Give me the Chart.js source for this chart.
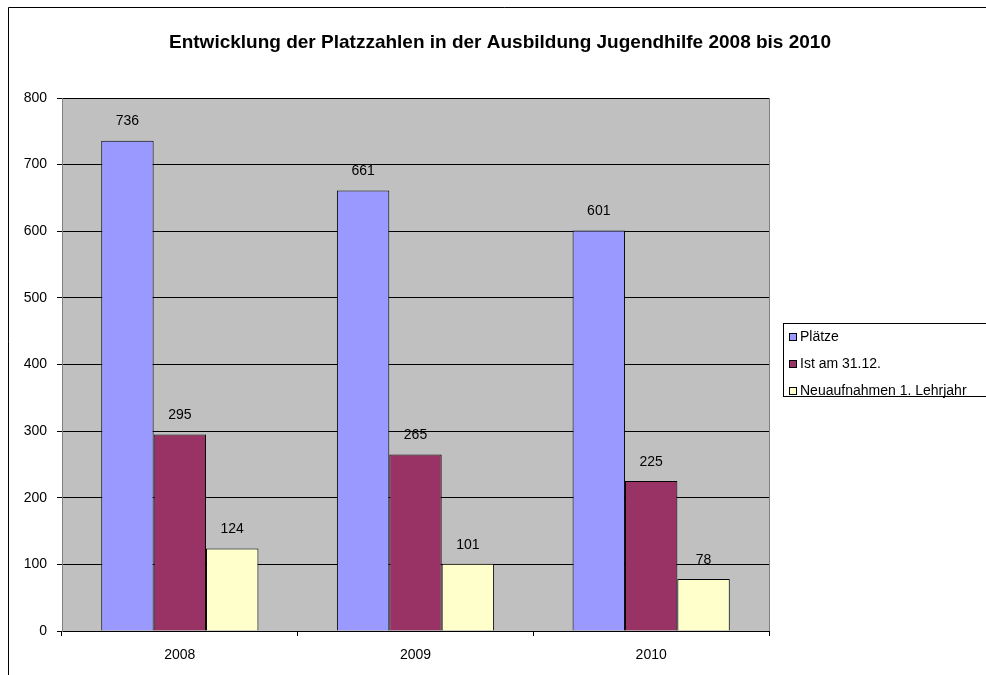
<!DOCTYPE html>
<html lang="de">
<head>
    <meta charset="UTF-8">
    <title>Entwicklung der Platzzahlen</title>
    <style>
        body {
            margin: 0;
            padding: 0;
            background: #fff;
            overflow: hidden;
        }
        .wrap {
            width: 986px;
            height: 675px;
            overflow: hidden;
        }
        canvas {
            display: block;
        }
    </style>
    <script src="https://cdn.jsdelivr.net/npm/chart.js"></script>
</head>
<body>
    <div class="wrap">
        <canvas id="chart" width="1000" height="675"></canvas>
    </div>
    <script>
        // Daten
        const years = ['2008', '2009', '2010'];
        const plaetze = [736, 661, 601];
        const istAm3112 = [295, 265, 225];
        const neuaufnahmen = [124, 101, 78];
        const seriesNames = ['Plätze', 'Ist am 31.12.', 'Neuaufnahmen 1. Lehrjahr'];
        const titleText = 'Entwicklung der Platzzahlen in der Ausbildung Jugendhilfe 2008 bis 2010';

        const FONT = 'Arial, "Liberation Sans", sans-serif';

        // Rahmen, Titel + grauer Plotbereich
        const backgroundPlugin = {
            id: 'plotBg',
            beforeDraw(chart) {
                const { ctx, chartArea } = chart;
                ctx.save();
                ctx.fillStyle = '#fff';
                ctx.fillRect(0, 0, chart.width, chart.height);
                ctx.strokeStyle = '#000';
                ctx.lineWidth = 1;
                ctx.beginPath();
                ctx.moveTo(8.5, chart.height);
                ctx.lineTo(8.5, 7.5);
                ctx.lineTo(chart.width, 7.5);
                ctx.stroke();
                // Titel über die ganze Diagrammbreite zentriert
                ctx.font = 'bold 19px ' + FONT;
                ctx.fillStyle = '#000';
                ctx.textAlign = 'center';
                ctx.textBaseline = 'middle';
                ctx.fillText(titleText, 500, 43);
                ctx.fillStyle = '#C0C0C0';
                ctx.fillRect(chartArea.left, chartArea.top, chartArea.right - chartArea.left, chartArea.bottom - chartArea.top);
                ctx.strokeStyle = '#808080';
                ctx.strokeRect(chartArea.left + 0.5, chartArea.top + 0.5, chartArea.right - chartArea.left, chartArea.bottom - chartArea.top);
                ctx.restore();
            }
        };

        // Werte über den Balken
        const valueLabelPlugin = {
            id: 'valueLabels',
            afterDatasetsDraw(chart) {
                const { ctx } = chart;
                ctx.save();
                ctx.font = '14px ' + FONT;
                ctx.textAlign = 'center';
                ctx.textBaseline = 'middle';
                ctx.fillStyle = '#000';
                chart.data.datasets.forEach((ds, i) => {
                    chart.getDatasetMeta(i).data.forEach((bar, j) => {
                        ctx.fillText(ds.data[j], bar.x, bar.y - 19);
                    });
                });
                ctx.restore();
            }
        };

        // Legende mit Rahmen (wie Excel)
        const boxLegendPlugin = {
            id: 'boxLegend',
            afterDraw(chart) {
                const { ctx } = chart;
                const left = 783, top = 323, rowH = 27;
                ctx.save();
                ctx.fillStyle = '#fff';
                ctx.strokeStyle = '#000';
                ctx.lineWidth = 1;
                ctx.fillRect(left, top, 220, 73);
                ctx.strokeRect(left + 0.5, top + 0.5, 220, 73);
                ctx.font = '14px ' + FONT;
                ctx.textBaseline = 'middle';
                chart.data.datasets.forEach((ds, i) => {
                    const cy = top + 14 + i * rowH;
                    ctx.fillStyle = ds.backgroundColor;
                    ctx.fillRect(left + 6, cy - 4, 8, 8);
                    ctx.strokeStyle = '#000';
                    ctx.strokeRect(left + 6.5, cy - 3.5, 7, 7);
                    ctx.fillStyle = '#000';
                    ctx.fillText(ds.label, left + 17, cy);
                });
                ctx.restore();
            }
        };

        const colors = ['#9999FF', '#993366', '#FFFFCC'];
        const values = [plaetze, istAm3112, neuaufnahmen];

        new Chart(document.getElementById('chart'), {
            type: 'bar',
            data: {
                labels: years,
                datasets: values.map((v, i) => ({
                    label: seriesNames[i],
                    data: v,
                    backgroundColor: colors[i],
                    borderColor: '#000',
                    borderWidth: 1,
                    categoryPercentage: 0.667,
                    barPercentage: 1.0
                }))
            },
            options: {
                responsive: false,
                animation: false,
                layout: { padding: { left: 0, right: 231, top: 98, bottom: 0 } },
                plugins: {
                    legend: { display: false },
                    tooltip: { enabled: false },
                    title: { display: false }
                },
                scales: {
                    x: {
                        grid: {
                            offset: true,
                            drawOnChartArea: false,
                            tickLength: 5,
                            color: '#000'
                        },
                        border: { color: '#000' },
                        ticks: {
                            color: '#000',
                            font: { family: FONT, size: 14 },
                            padding: 11
                        },
                        afterFit(scale) { scale.height = 44; }
                    },
                    y: {
                        min: 0,
                        max: 800,
                        grid: {
                            color: '#000',
                            tickLength: 5
                        },
                        border: { color: '#808080' },
                        ticks: {
                            stepSize: 100,
                            color: '#000',
                            font: { family: FONT, size: 14 },
                            padding: 10
                        },
                        afterFit(scale) { scale.width = 62; }
                    }
                }
            },
            plugins: [backgroundPlugin, valueLabelPlugin, boxLegendPlugin]
        });
    </script>
</body>
</html>
